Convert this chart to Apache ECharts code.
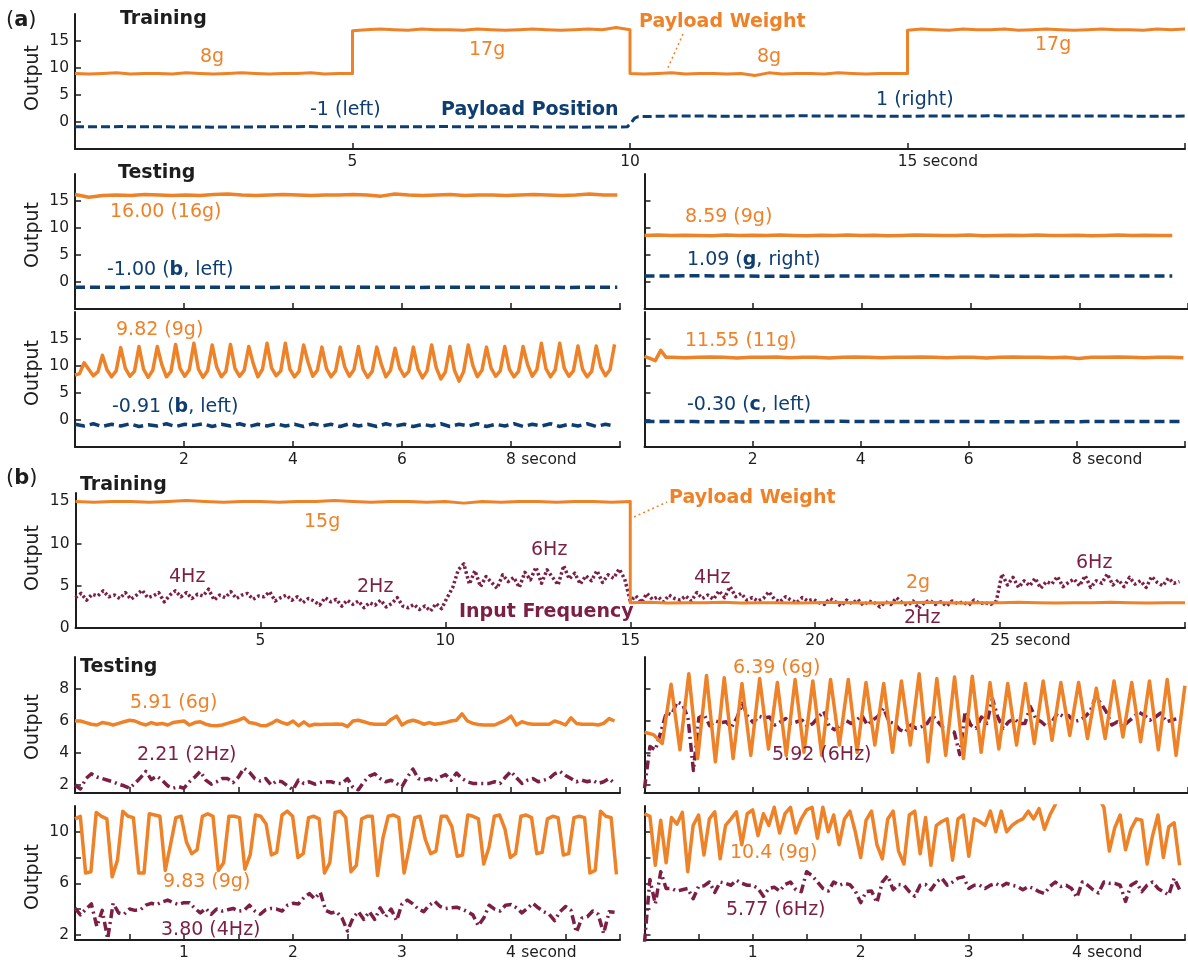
<!DOCTYPE html>
<html><head><meta charset="utf-8">
<script src="https://cdn.jsdelivr.net/npm/echarts@6/dist/echarts.min.js"></script>
<style>html,body{margin:0;padding:0;background:#fff}#c{width:1188px;height:962px}</style>
</head><body><div id="c"></div>
<script>
// ================= DATA =================
// (a) Training: payload weight (segment boundaries in seconds) and position
const aTrainWeightBounds = [0, 5, 10, 15, 20];
const aTrainWeight8a  = [9.0,8.9,9.0,9.1,8.9,9.0,9.0,8.9,9.1,9.0,8.9,9.0,9.1,9.0,8.9,9.0,9.0,9.1,8.9,9.0,9.0];
const aTrainWeight17a = [16.9,17.1,17.2,17.1,17.0,17.2,17.1,17.1,17.0,17.2,17.1,17.0,17.1,17.2,17.1,17.0,17.1,17.2,17.1,17.5,17.1];
const aTrainWeight8b  = [9.0,8.9,9.0,9.1,8.9,9.0,9.0,8.9,9.0,8.6,9.1,8.9,9.0,9.0,8.9,9.1,9.0,8.9,9.0,9.0,9.0];
const aTrainWeight17b = [17.0,17.2,17.1,17.0,17.2,17.1,17.1,17.2,17.0,17.1,17.2,17.1,17.0,17.1,17.2,17.1,17.1,17.0,17.2,17.1,17.2];
const aTrainPosBounds = [0, 9.95, 10.15, 20];
const aTrainPosLeft   = [-0.9,-0.85,-0.9,-0.95,-0.9,-0.85,-0.9,-0.9,-0.85,-0.9,-0.9,-0.95,-0.9];
const aTrainPosSwitch = [-0.9,-0.2,0.7,1.0];
const aTrainPosRight  = [1.0,1.1,1.1,1.05,1.1,1.15,1.1,1.1,1.05,1.1,1.1,1.15,1.1,1.1,1.1,1.1,1.05,1.1];

// (a) Testing panels (time spans in seconds)
const aTestSpans = [9.95, 9.9, 9.71, 9.97];
const aTest1Weight = [16.2,15.7,16.0,16.1,16.0,16.2,16.1,16.0,16.1,16.0,16.2,16.3,16.1,16.0,16.1,16.2,16.1,16.0,16.1,16.1,16.2,16.1,15.9,16.3,16.1,16.0,16.1,16.2,16.0,16.1,16.1,16.0,16.1,16.2,16.1,16.0,16.1,16.3,16.1,16.1];
const aTest1Pos = [-0.95,-1.0,-0.95,-0.95,-1.0,-0.95,-0.95,-1.0,-0.95,-0.95,-1.0,-0.95];
const aTest2Weight = [8.3,8.6,10.6,9.4,8.2,8.9,12.0,9.3,8.0,9.1,13.4,9.6,8.1,9.0,13.6,9.4,7.9,9.2,13.6,10.2,
  8.0,9.0,14.0,9.5,8.1,9.3,14.2,9.4,7.9,9.1,13.9,9.8,8.0,9.0,14.0,9.5,8.1,9.2,13.6,10.4,
  8.0,9.4,14.2,9.6,8.2,9.1,14.2,9.4,8.0,9.0,13.9,10.6,8.1,9.2,13.5,9.5,8.0,9.1,13.5,9.8,
  8.1,9.3,13.6,9.4,7.9,9.0,13.5,10.3,8.0,9.2,13.3,9.6,8.1,9.0,13.5,9.5,7.8,9.1,13.9,9.7,
  7.6,8.9,13.6,9.2,7.2,9.0,13.9,10.1,8.0,9.2,13.5,9.6,8.1,9.1,13.6,9.4,8.0,9.0,13.6,10.2,
  8.1,9.3,14.2,9.5,8.0,9.2,14.2,9.6,8.1,9.1,13.7,9.4,8.0,9.0,13.7,9.8,8.2,9.3,14.0];
const aTest2Pos = [-0.8,-1.1,-0.7,-1.2,-0.8,-1.1,-0.7,-1.2,-0.9,-1.1,-0.7,-1.2,-0.8,-1.0,-0.7,-1.2,-0.8,-1.1,-0.7,-1.2,
  -0.8,-1.1,-0.7,-1.1,-0.8,-1.2,-0.7,-1.1,-0.8,-1.2,-0.7,-1.1,-0.8,-1.2,-0.7,-1.1,-0.8,-1.2,-0.8,-1.1,
  -0.7,-1.2,-0.8,-1.1,-0.7,-1.2,-0.8,-1.1,-0.7,-1.2,-0.8,-1.1,-0.7,-1.2,-0.8,-1.1,-0.7,-1.2,-0.8,-1.1];
const aTest3Weight = [8.6,8.7,8.6,8.65,8.6,8.55,8.7,8.6,8.65,8.6,8.7,8.6,8.55,8.65,8.6,8.7,8.6,8.65,8.55,8.6,8.7,8.65,8.6,8.6,8.7,8.55,8.6,8.65,8.6,8.7,8.6,8.6,8.65,8.55,8.6,8.7,8.6,8.65,8.6,8.6];
const aTest3Pos = [1.1,1.15,1.1,1.05,1.1,1.1,1.15,1.1,1.05,1.1,1.1,1.1];
const aTest4WeightStart = [11.8,11.4,11.0,12.9,11.6];
const aTest4Weight = [11.6,11.55,11.6,11.65,11.6,11.5,11.6,11.6,11.65,11.55,11.6,11.6,11.5,11.6,11.65,11.6,11.55,11.6,11.6,11.65,11.6,11.55,11.6,11.6,11.5,11.6,11.65,11.6,11.6,11.55,11.6,11.4,11.6,11.6,11.65,11.6,11.55,11.6,11.6,11.55];
const aTest4Pos = [-0.3,-0.3,-0.35,-0.3,-0.25,-0.3,-0.3,-0.3,-0.35,-0.3,-0.3,-0.3];

// (b) Training: payload weight and input frequency
const bTrainWeightBounds = [0, 15, 30];
const bTrainWeight15 = [15.0,14.9,15.0,15.0,14.9,15.0,15.1,15.0,14.9,15.0,15.0,14.9,15.0,15.0,15.1,15.0,14.9,15.0,15.0,14.9,15.0,14.8,15.0,14.9,15.0,15.0,14.9,15.0,15.0,14.9,15.0];
const bTrainWeight2 = [3.0,3.05,2.95,3.0,3.0,3.05,2.95,3.0,3.0,2.95,3.0,3.05,3.0,2.95,3.0,3.0,3.05,3.0,2.95,3.0,3.0,3.05,3.0,2.95,3.0,3.0,3.05,3.0,2.95,3.0,3.0];
const bTrainFreqDt = 0.15;
const bTrainFreq = [3.6,4.1,3.3,4.0,3.8,4.4,3.7,3.9,3.5,4.2, 3.4,3.9,4.5,3.6,3.8,4.2,3.1,3.9,4.4,3.7,
  4.2,3.5,4.0,3.8,4.6,3.3,3.9,3.6,4.3,3.5, 3.9,4.1,3.4,3.8,3.7,4.3,3.2,3.6,3.9,3.3,
  3.7,3.0,3.5,3.2,2.7,3.6,3.1,3.4,2.6,3.3, 2.8,3.2,2.4,3.0,2.7,3.3,2.5,2.9,3.6,2.6,
  2.4,2.8,2.2,2.6,2.0,2.9,2.3,3.6,4.8,6.9, 7.6,5.2,6.8,4.9,6.1,5.4,4.7,6.3,5.5,6.0,
  4.8,6.6,5.7,7.2,5.3,6.9,6.0,5.1,7.4,5.8, 6.5,5.2,6.2,5.6,6.8,5.4,6.3,5.9,7.0,5.8,
  3.2,3.8,3.0,4.1,3.4,3.7,3.1,3.9,3.5,3.3, 3.8,3.2,4.2,3.5,3.9,3.4,4.4,3.6,4.9,3.7,
  4.1,3.3,3.6,3.2,3.5,4.3,3.4,3.1,3.7,3.3, 3.0,3.6,3.2,3.4,3.0,2.8,3.5,3.1,2.6,3.3,
  2.9,3.4,2.7,3.2,3.0,2.5,3.1,2.8,3.6,3.0, 2.7,3.2,2.3,3.0,3.3,2.8,3.1,2.6,3.2,2.9,
  3.1,2.7,3.3,2.9,3.0,2.8,3.2,6.4,5.1,6.0, 4.8,5.6,5.0,5.9,4.7,5.5,5.2,6.1,4.9,5.4,
  5.8,5.0,6.2,4.8,5.6,5.3,6.4,5.1,5.7,4.9, 6.0,5.2,5.6,4.8,6.1,5.4,5.0,5.9,5.3,5.5];

// (b) Testing panels (sample spacing in seconds)
const bTestDt = 0.05;
const bTestBLWeightDt = 0.0487;
const bTestTRWeightDt = 0.0815;
const bTestTLWeight = [6.0,6.0,5.9,5.8,5.75,5.9,5.85,5.75,5.85,5.95, 6.05,6.0,5.85,5.75,5.9,5.8,5.85,5.75,5.9,5.95,
  6.0,5.75,5.9,5.95,5.8,5.72,5.7,5.75,5.85,5.95, 6.05,6.2,5.9,5.85,5.72,5.7,5.85,6.05,5.9,5.8,
  6.0,5.7,5.95,5.7,5.8,5.78,5.8,5.8,5.82,5.8, 5.65,6.0,6.05,5.95,5.85,5.8,5.8,5.8,6.1,6.3,
  5.75,5.95,6.05,5.95,5.8,5.9,5.8,5.85,5.9,6.0, 6.05,6.45,6.0,5.85,5.78,5.75,5.75,5.75,5.9,6.05,
  6.3,5.75,5.95,5.85,5.8,5.8,5.8,5.8,6.0,5.9, 5.75,6.2,5.85,5.8,5.8,5.8,5.75,5.85,6.15,6.0];
const bTestTLFreq = [2.0,1.75,2.4,2.7,2.5,2.4,2.3,2.2,2.05,1.95, 1.8,2.1,2.45,2.85,2.35,2.55,2.3,1.95,1.8,1.9,
  1.8,2.2,2.5,2.85,2.3,2.05,2.2,2.4,2.4,2.15, 2.5,3.05,2.8,2.4,2.25,2.4,2.0,2.25,2.2,1.95,
  1.7,2.3,2.1,2.2,2.05,2.15,2.2,2.2,2.1,2.1, 2.4,1.85,1.7,2.2,2.55,2.7,2.4,2.2,2.3,2.1,
  1.9,2.5,3.0,2.4,2.3,2.4,2.2,2.5,2.65,2.3, 2.75,2.4,2.2,2.1,2.1,2.1,2.1,2.2,2.1,2.5,
  2.85,2.45,2.1,2.3,2.4,2.2,2.3,2.4,2.7,2.85, 2.6,2.4,2.2,2.3,2.2,2.3,2.1,2.2,2.4,2.1];
const bTestBLWeight = [11.0,11.2,6.8,6.9,11.5, 11.2,11.0,6.5,7.8,11.6, 11.2,11.1,6.8,6.8,11.4, 11.3,11.2,7.0,9.0,11.1,
  11.2,9.2,8.3,8.6,11.2, 11.4,11.2,7.0,7.6,11.2, 11.2,11.1,7.1,8.2,11.3, 11.2,10.6,8.2,8.4,11.3,
  11.6,11.2,8.0,8.3,11.1, 11.2,11.0,6.8,7.6,11.5, 11.6,11.1,6.9,7.4,11.0, 11.2,11.2,6.6,9.5,11.2,
  11.3,11.1,6.8,8.8,11.1, 11.2,9.4,8.3,8.5,11.2, 11.2,10.4,8.1,8.2,11.3, 11.2,11.0,7.5,8.8,11.2,
  11.3,10.2,8.0,8.3,11.2, 11.3,11.1,8.3,8.4,11.0, 11.2,11.1,8.2,8.3,11.1, 11.2,11.1,6.8,7.0,11.6,
  11.2,11.1,6.7];
const bTestBLFreq = [4.07,3.55,4.0,4.4,2.65,3.9,1.7,4.45,3.7,3.6, 4.0,3.9,3.95,4.3,4.45,4.35,4.55,4.7,4.5,4.35,
  4.5,4.5,4.05,3.7,4.05,3.6,4.0,3.85,3.95,4.05, 3.85,3.9,4.3,3.85,3.6,3.95,4.05,4.0,3.85,4.3,
  4.45,4.4,4.9,5.2,4.8,5.3,3.9,3.7,3.8,3.3, 2.3,3.3,3.8,3.2,3.8,3.2,4.1,3.4,4.0,3.1,
  4.4,4.7,4.4,4.0,3.8,4.3,4.6,4.2,4.05,4.1, 4.15,4.0,3.8,3.55,2.7,3.3,4.3,4.0,3.85,4.3,
  4.35,4.1,3.7,4.05,4.45,4.1,3.8,3.6,3.1,3.8, 4.2,3.9,2.2,3.3,3.4,3.85,3.6,2.1,3.8,3.75];
const bTestTRWeight = [5.3,5.15,4.6,8.3,4.2,8.95,3.65,8.85,3.45,8.7, 3.65,8.35,3.85,8.65,4.25,8.4,3.85,8.6,4.05,8.5,
  3.85,8.6,4.5,8.6,4.05,8.4,4.5,8.35,4.05,8.5, 4.5,8.95,3.45,8.65,3.85,8.75,3.65,8.8,4.05,8.4,
  4.25,8.35,4.5,8.35,4.6,8.5,4.8,8.4,5.1,8.4, 4.9,8.05,4.9,8.5,5.0,8.4,4.7,8.5,4.2,8.6,
  3.85,8.2];
const bTestTRFreq = [1.8,4.4,4.2,5.3,6.5,6.4,7.2,7.05,6.2,2.9, 6.2,6.4,5.7,6.0,5.9,5.95,5.6,6.2,7.1,6.3,
  5.9,6.3,6.2,6.25,5.75,5.95,6.15,5.85,5.95,6.05, 5.65,5.85,6.25,6.6,5.65,5.45,5.75,6.05,5.85,6.05,
  6.35,5.75,6.05,6.3,6.8,5.95,5.85,5.45,5.3,5.75, 5.55,5.65,5.85,6.35,5.95,5.55,5.45,5.3,3.9,6.6,
  5.75,5.55,6.25,5.85,7.4,6.25,5.55,5.95,6.15,5.85, 5.85,6.9,6.15,5.95,5.65,5.95,6.5,6.3,6.35,5.95,
  6.05,6.25,6.6,7.5,7.1,6.55,5.75,5.95,5.65,5.95, 6.25,6.55,6.35,6.05,6.25,6.5,5.95,6.05,6.15,5.95];
const bTestBRWeight = [11.4,11.2,7.4,10.9,7.6,11.1,10.6,11.5,6.9,10.5, 11.3,8.2,11.0,11.55,7.9,10.5,11.0,11.55,9.0,11.4,
  11.7,9.7,11.4,10.5,11.9,9.9,11.4,11.9,9.9,11.0, 11.7,11.9,9.5,11.9,10.0,11.3,9.0,11.0,11.6,10.0,
  8.0,10.9,11.6,9.0,7.9,11.0,11.6,8.5,7.5,11.3, 11.6,8.3,11.1,7.4,10.5,10.8,11.0,7.8,11.0,11.3,
  8.1,11.0,10.8,10.5,11.6,10.0,11.6,10.0,10.5,10.8, 11.0,11.6,11.0,11.8,10.2,11.3,12.1,12.9,13.5,14.0,
  14.2,14.0,13.6,13.2,12.6,11.9,8.5,10.3,11.3,8.6, 10.2,11.0,10.9,7.5,9.7,11.3,8.0,10.4,10.7,7.4];
const bTestBRFreq = [1.4,6.3,4.4,6.9,5.6,5.6,5.4,5.5,5.6,4.8, 5.75,5.8,6.1,5.3,6.1,6.0,5.85,6.25,6.0,5.85,
  5.85,5.6,5.0,5.6,5.7,5.4,5.9,6.1,5.5,5.35, 6.9,6.6,6.1,5.6,5.4,6.1,5.85,6.0,5.9,5.4,
  4.5,5.35,5.4,4.5,6.1,6.6,5.5,5.9,5.85,5.35, 5.0,5.85,5.9,5.5,6.1,6.4,5.85,6.1,6.4,6.5,
  5.6,5.85,5.85,5.6,5.85,6.0,5.75,6.0,5.85,5.75, 5.5,5.75,5.6,5.35,5.2,5.75,6.1,5.75,5.85,5.6,
  4.9,6.1,5.85,5.5,5.25,6.1,6.0,6.0,5.85,4.6, 5.85,6.1,5.35,5.85,6.1,5.6,5.35,5.1,6.4,5.5];

// tick values
const aYTicks = [0, 5, 10, 15];
const bTrainYTicks = [0, 5, 10, 15];
const bTestTopYTicks = [2, 4, 6, 8];
const bTestBotYTicks = [2, 4, 6, 8, 10];
const bTestBotYLabels = [2, 6, 10];
const aTrainXLabels = [5, 10, 15];
const aTestXLabels = [2, 4, 6, 8];
const bTrainXLabels = [5, 10, 15, 20, 25];
const bTestXLabels = [1, 2, 3, 4];

// ================= HELPERS =================
const FONT = "'DejaVu Sans', sans-serif";
const ORANGE = '#ee8229', NAVY = '#0e3d70', PURPLE = '#7b1f45', INK = '#1d1d1d';
const TICK_FS = 15.5;

const mctx = document.createElement('canvas').getContext('2d');
mctx.font = TICK_FS + "px 'DejaVu Sans'";
const SEC_W = Math.ceil(mctx.measureText(' second').width);

function seg(t0, t1, vals) {
  const n = vals.length;
  return vals.map((v, i) => [t0 + (t1 - t0) * (n === 1 ? 0 : i / (n - 1)), v]);
}
function even(dt, vals) { return vals.map((v, i) => [i * dt, v]); }

function xAx(gi, min, max, interval, labels, secondAt) {
  return {
    type: 'value', gridIndex: gi, min, max, interval,
    axisLine: { show: true, onZero: false, lineStyle: { color: INK, width: 2 } },
    axisTick: { show: true, inside: true, length: 6, lineStyle: { color: INK, width: 1.5 } },
    splitLine: { show: false },
    axisLabel: labels ? {
      show: true, margin: 5, fontSize: TICK_FS, fontFamily: FONT, color: INK,
      showMinLabel: true, showMaxLabel: true,
      formatter: function (v) {
        const r = Math.round(v);
        if (Math.abs(v - r) > 1e-6 || labels.indexOf(r) < 0) return '';
        return r === secondAt ? '{p| }{v|' + r + '}{s| second}' : String(r);
      },
      rich: {
        p: { width: SEC_W, fontSize: TICK_FS, fontFamily: FONT },
        v: { fontSize: TICK_FS, fontFamily: FONT, color: INK },
        s: { width: SEC_W, fontSize: TICK_FS, fontFamily: FONT, color: INK }
      }
    } : { show: false }
  };
}
function yAx(gi, min, max, ticks, labels) {
  return {
    type: 'value', gridIndex: gi, min, max,
    axisLine: { show: true, onZero: false, lineStyle: { color: INK, width: 2 } },
    axisTick: { show: true, inside: true, length: 6, customValues: ticks, lineStyle: { color: INK, width: 1.5 } },
    splitLine: { show: false },
    axisLabel: labels ? { show: true, customValues: labels, margin: 6, fontSize: TICK_FS, fontFamily: FONT, color: INK } : { show: false }
  };
}
function line(i, data, color, width, type) {
  return {
    type: 'line', xAxisIndex: i, yAxisIndex: i, data, showSymbol: false, symbol: 'none',
    silent: true, animation: false, clip: true,
    lineStyle: { color, width, type: type || 'solid', cap: 'butt', join: 'round' }
  };
}
function txt(x, y, text, color, bold, size, extra) {
  const fs = size || 19;
  const el = {
    type: 'text', x, y, silent: true, z: 100,
    style: {
      text, fill: color, fontSize: fs, fontFamily: FONT, fontWeight: bold ? 'bold' : 'normal',
      align: 'left', textAlign: 'left', verticalAlign: 'middle', textVerticalAlign: 'middle'
    }
  };
  if (extra) Object.assign(el.style, extra);
  return el;
}
function richTxt(x, y, text, color, size) {
  const fs = size || 19;
  return txt(x, y, text, color, false, fs, {
    rich: {
      n: { fill: color, fontSize: fs, fontFamily: FONT, fontWeight: 'normal' },
      b: { fill: color, fontSize: fs, fontFamily: FONT, fontWeight: 'bold' }
    }
  });
}
function outputLabel(y) {
  return {
    type: 'text', x: 33, y, rotation: Math.PI / 2, silent: true, z: 100,
    style: { text: 'Output', fill: INK, fontSize: 19, fontFamily: FONT, align: 'center', textAlign: 'center', verticalAlign: 'middle', textVerticalAlign: 'middle' }
  };
}

// ================= LAYOUT =================
const grids = [
  { left: 75, top: 14, width: 1113, height: 135 },
  { left: 75, top: 174, width: 545, height: 135 },
  { left: 75, top: 312, width: 545, height: 135 },
  { left: 644.5, top: 174, width: 545, height: 135 },
  { left: 644.5, top: 312, width: 545, height: 135 },
  { left: 75.5, top: 493, width: 1113, height: 135 },
  { left: 75, top: 657, width: 545, height: 136 },
  { left: 75, top: 806, width: 545, height: 134 },
  { left: 644.5, top: 657, width: 545, height: 136 },
  { left: 644.5, top: 806, width: 545, height: 134 }
];

const xAxes = [
  xAx(0, 0, 20, 5, aTrainXLabels, 15),
  xAx(1, 0, 10, 2, null),
  xAx(2, 0, 10, 2, aTestXLabels, 8),
  xAx(3, 0, 10, 2, null),
  xAx(4, 0, 10, 2, aTestXLabels, 8),
  xAx(5, 0, 30, 5, bTrainXLabels, 25),
  xAx(6, 0, 5, 0.5, null),
  xAx(7, 0, 5, 0.5, bTestXLabels, 4),
  xAx(8, 0, 5, 0.5, null),
  xAx(9, 0, 5, 0.5, bTestXLabels, 4)
];
const yAxes = [
  yAx(0, -5, 20, aYTicks, aYTicks),
  yAx(1, -5, 20, aYTicks, aYTicks),
  yAx(2, -5, 20, aYTicks, aYTicks),
  yAx(3, -5, 20, aYTicks, null),
  yAx(4, -5, 20, aYTicks, null),
  yAx(5, 0, 16, bTrainYTicks, bTrainYTicks),
  yAx(6, 1.5, 10, bTestTopYTicks, bTestTopYTicks),
  yAx(7, 1.6, 12, bTestBotYTicks, bTestBotYLabels),
  yAx(8, 1.5, 10, bTestTopYTicks, null),
  yAx(9, 1.6, 12, bTestBotYTicks, null)
];

const B = aTrainWeightBounds, P = aTrainPosBounds, Bb = bTrainWeightBounds;
const DASH = [9, 4], DASH2 = [10, 5], DOT = [2.5, 2.5], DASHDOT = [9, 4, 2, 4];
const series = [
  line(0, [...seg(B[0], B[1], aTrainWeight8a), ...seg(B[1], B[2], aTrainWeight17a), ...seg(B[2], B[3], aTrainWeight8b), ...seg(B[3], B[4], aTrainWeight17b)], ORANGE, 3),
  line(0, [...seg(P[0], P[1], aTrainPosLeft), ...seg(P[1], P[2], aTrainPosSwitch), ...seg(P[2], P[3], aTrainPosRight)], NAVY, 3, DASH),
  line(1, seg(0, aTestSpans[0], aTest1Weight), ORANGE, 3.5),
  line(1, seg(0, aTestSpans[0], aTest1Pos), NAVY, 3.5, DASH2),
  line(2, seg(0, aTestSpans[1], aTest2Weight), ORANGE, 3.5),
  line(2, seg(0, aTestSpans[1], aTest2Pos), NAVY, 3.5, DASH2),
  line(3, seg(0, aTestSpans[2], aTest3Weight), ORANGE, 3.5),
  line(3, seg(0, aTestSpans[2], aTest3Pos), NAVY, 3.5, DASH2),
  line(4, [...seg(0, 0.4, aTest4WeightStart), ...seg(0.5, aTestSpans[3], aTest4Weight)], ORANGE, 3.5),
  line(4, seg(0, aTestSpans[3], aTest4Pos), NAVY, 3.5, DASH2),
  line(5, even(bTrainFreqDt, bTrainFreq), PURPLE, 3.5, DOT),
  line(5, [...seg(Bb[0], Bb[1], bTrainWeight15), ...seg(Bb[1], Bb[2], bTrainWeight2)], ORANGE, 3),
  line(6, even(bTestDt, bTestTLFreq), PURPLE, 3.5, DASHDOT),
  line(6, even(bTestDt, bTestTLWeight), ORANGE, 3.5),
  line(7, even(bTestDt, bTestBLFreq), PURPLE, 3.5, DASHDOT),
  line(7, even(bTestBLWeightDt, bTestBLWeight), ORANGE, 3.5),
  line(8, even(bTestDt, bTestTRFreq), PURPLE, 3.5, DASHDOT),
  line(8, even(bTestTRWeightDt, bTestTRWeight), ORANGE, 3.5),
  line(9, even(bTestDt, bTestBRFreq), PURPLE, 3.5, DASHDOT),
  line(9, even(bTestDt, bTestBRWeight), ORANGE, 3.5)
];

function panelTag(x, y, letter) {
  return txt(x, y, '{n|(}{b|' + letter + '}{n|)}', INK, false, 21, {
    rich: {
      n: { fill: INK, fontSize: 21, fontFamily: FONT, fontWeight: 'normal' },
      b: { fill: INK, fontSize: 21, fontFamily: FONT, fontWeight: 'bold' }
    }
  });
}

const graphics = [
  panelTag(6, 21, 'a'), panelTag(6, 479, 'b'),
  outputLabel(78), outputLabel(235), outputLabel(373), outputLabel(558), outputLabel(727), outputLabel(877),
  // (a) training
  txt(120, 19, 'Training', INK, true),
  txt(200, 57, '8g', ORANGE), txt(469, 50, '17g', ORANGE),
  txt(639, 22, 'Payload Weight', ORANGE, true),
  { type: 'line', silent: true, z: 100, shape: { x1: 683, y1: 34, x2: 667, y2: 70 }, style: { stroke: ORANGE, lineWidth: 1.5, lineDash: [2, 3] } },
  txt(757, 57, '8g', ORANGE), txt(1035, 45, '17g', ORANGE),
  txt(310, 110, '-1 (left)', NAVY), txt(441, 110, 'Payload Position', NAVY, true),
  txt(876, 100, '1 (right)', NAVY),
  // (a) testing
  txt(118, 173, 'Testing', INK, true),
  txt(110, 212, '16.00 (16g)', ORANGE),
  richTxt(107, 270, '{n|-1.00 (}{b|b}{n|, left)}', NAVY),
  txt(116, 330, '9.82 (9g)', ORANGE),
  richTxt(112, 407, '{n|-0.91 (}{b|b}{n|, left)}', NAVY),
  txt(685, 217, '8.59 (9g)', ORANGE),
  richTxt(687, 260, '{n|1.09 (}{b|g}{n|, right)}', NAVY),
  txt(685, 341, '11.55 (11g)', ORANGE),
  richTxt(687, 405, '{n|-0.30 (}{b|c}{n|, left)}', NAVY),
  // (b) training
  txt(80, 485, 'Training', INK, true),
  txt(304, 522, '15g', ORANGE),
  txt(169, 577, '4Hz', PURPLE), txt(357, 587, '2Hz', PURPLE), txt(531, 550, '6Hz', PURPLE),
  txt(459, 612, 'Input Frequency', PURPLE, true),
  txt(669, 498, 'Payload Weight', ORANGE, true),
  { type: 'line', silent: true, z: 100, shape: { x1: 634, y1: 517, x2: 667, y2: 502 }, style: { stroke: ORANGE, lineWidth: 1.5, lineDash: [2, 3] } },
  txt(694, 578, '4Hz', PURPLE), txt(906, 583, '2g', ORANGE), txt(904, 618, '2Hz', PURPLE), txt(1076, 563, '6Hz', PURPLE),
  // (b) testing
  txt(80, 667, 'Testing', INK, true),
  txt(130, 703, '5.91 (6g)', ORANGE), txt(137, 755, '2.21 (2Hz)', PURPLE),
  txt(163, 882, '9.83 (9g)', ORANGE), txt(161, 930, '3.80 (4Hz)', PURPLE),
  txt(733, 668, '6.39 (6g)', ORANGE), txt(772, 755, '5.92 (6Hz)', PURPLE),
  txt(730, 853, '10.4 (9g)', ORANGE), txt(726, 910, '5.77 (6Hz)', PURPLE)
];

const chart = echarts.init(document.getElementById('c'), null, { renderer: 'canvas' });
chart.setOption({
  animation: false,
  backgroundColor: '#ffffff',
  grid: grids,
  xAxis: xAxes,
  yAxis: yAxes,
  series,
  graphic: { elements: graphics }
});
</script></body></html>
